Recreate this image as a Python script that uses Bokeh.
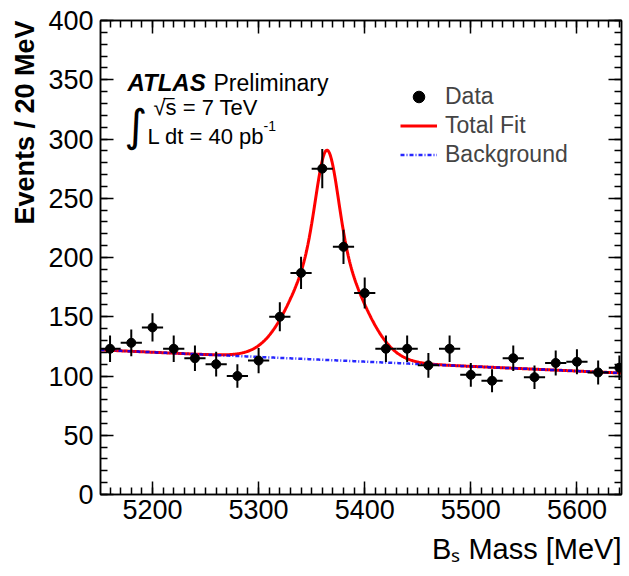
import numpy as np
from bokeh.plotting import figure
from bokeh.models import (Range1d, LinearAxis, Label, Legend, LegendItem, Title,
                          SingleIntervalTicker, ColumnDataSource)
from bokeh.embed import file_html
from bokeh.resources import INLINE

# ---- binned candidates (20 MeV bins, bin centres) ----
mass_bins = [5160, 5180, 5200, 5220, 5240, 5260, 5280, 5300, 5320, 5340,
             5360, 5380, 5400, 5420, 5440, 5460, 5480, 5500, 5520, 5540,
             5560, 5580, 5600, 5620, 5640]
events = [123, 128, 141, 123, 115, 110, 100, 113, 150, 187,
          275, 209, 170, 123, 123, 109, 123, 101, 96, 115,
          99, 111, 112, 103, 107]
bin_half_width = 10

# ---- fit result: double-Gaussian signal on a linear background ----
bs_mass = 5364.5
core_sigma = 10.0
tail_sigma = 30.0
core_height = 80.0
tail_height = 97.0
bkg_ref_mass = 5151.0
bkg_at_ref = 122.0
bkg_slope = -0.0397

x_lo, x_hi = 5151, 5642
y_lo, y_hi = 0, 400

FONT = "Liberation Sans"

def background(m):
    return bkg_at_ref + bkg_slope * (m - bkg_ref_mass)

def total_fit(m):
    d = m - bs_mass
    sig = (core_height * np.exp(-0.5 * (d / core_sigma) ** 2)
           + tail_height * np.exp(-0.5 * (d / tail_sigma) ** 2))
    return background(m) + sig

mx = np.array(mass_bins, dtype=float)
ny = np.array(events, dtype=float)
err = np.sqrt(ny)
data = ColumnDataSource(dict(
    x=mx, y=ny, xl=mx - bin_half_width, xr=mx + bin_half_width,
    ylo=ny - err, yhi=ny + err))

grid = np.linspace(x_lo, x_hi, 800)
curves = ColumnDataSource(dict(m=grid, fit=total_fit(grid), bkg=background(grid)))

p = figure(width=629, height=576, x_range=Range1d(x_lo, x_hi),
           y_range=Range1d(y_lo, y_hi), output_backend="svg",
           toolbar_location=None, min_border_left=100, min_border_right=8,
           min_border_top=20, min_border_bottom=82)
p.xgrid.visible = False
p.ygrid.visible = False
p.outline_line_color = "black"
p.outline_line_width = 1.5
p.background_fill_color = "white"
p.border_fill_color = "white"

def style_axis(ax, show_labels):
    ax.axis_line_color = "black"
    ax.axis_line_width = 1.5
    ax.major_tick_in = 13
    ax.major_tick_out = 0
    ax.minor_tick_in = 7
    ax.minor_tick_out = 0
    ax.major_tick_line_color = "black"
    ax.minor_tick_line_color = "black"
    ax.major_tick_line_width = 1.5
    ax.minor_tick_line_width = 1.5
    if show_labels:
        ax.major_label_text_font = FONT
        ax.major_label_text_font_size = "27px"
        ax.major_label_text_color = "black"
    else:
        ax.major_label_text_color = None
        ax.major_label_text_font_size = "1px"
        ax.major_label_standoff = 0

p.xaxis.ticker = SingleIntervalTicker(interval=100, num_minor_ticks=10)
p.yaxis.ticker = SingleIntervalTicker(interval=50, num_minor_ticks=5)
style_axis(p.xaxis[0], True)
style_axis(p.yaxis[0], True)
p.xaxis.major_label_standoff = 5
p.yaxis.major_label_standoff = 7

top_ax = LinearAxis(ticker=SingleIntervalTicker(interval=100, num_minor_ticks=10))
right_ax = LinearAxis(ticker=SingleIntervalTicker(interval=50, num_minor_ticks=5))
style_axis(top_ax, False)
style_axis(right_ax, False)
p.add_layout(top_ax, "above")
p.add_layout(right_ax, "right")

# axis titles, aligned to the far end of each axis
p.add_layout(Title(text="Events / 20 MeV", align="right", text_font=FONT,
                   text_font_size="27px", text_font_style="bold",
                   text_color="black", standoff=12), "left")
p.add_layout(Title(text="B\u209b Mass [MeV]", align="right", text_font=FONT,
                   text_font_size="29px", text_font_style="normal",
                   text_color="black", standoff=19), "below")

# fit curves
fit_r = p.line("m", "fit", source=curves, line_color="#ff0000", line_width=3)
bkg_r = p.line("m", "bkg", source=curves, line_color="#0000ff", line_width=2.5,
               line_dash="4 2 1 2", line_alpha=0.85)

# data with error bars
p.segment("xl", "y", "xr", "y", source=data, line_color="black", line_width=2)
p.segment("x", "ylo", "x", "yhi", source=data, line_color="black", line_width=2)
pts = p.scatter("x", "y", source=data, size=9, color="black")

legend = Legend(items=[LegendItem(label="Data", renderers=[pts]),
                       LegendItem(label="Total Fit", renderers=[fit_r]),
                       LegendItem(label="Background", renderers=[bkg_r])],
                location=(300, 325), border_line_alpha=0,
                background_fill_alpha=0, label_text_font=FONT,
                label_text_font_size="23px", glyph_width=37, glyph_height=29,
                label_height=29, spacing=0, padding=0, margin=0,
                label_standoff=8)
p.add_layout(legend)

# text placed in canvas pixels relative to the frame (left=100, bottom=494)
def fx(X):
    return X - 100

def fy(Y):
    return 494 - Y

def put(text, X, Y, size, style="normal", font=FONT, align="left",
        baseline="alphabetic"):
    p.add_layout(Label(x=fx(X), y=fy(Y), x_units="screen", y_units="screen",
                       text=text, text_font=font, text_font_size=size,
                       text_font_style=style, text_align=align,
                       text_baseline=baseline, text_color="black"))

put("ATLAS", 127, 82, "24px", style="bold italic")
put("Preliminary", 213, 82, "23px")
put("\u221as = 7 TeV", 153, 107, "22px")
# bar over the "s" under the root sign
put("\u2013", 163, 96, "20px")
put("\u222b", 124, 125, "44px", font="DejaVu Sans", baseline="middle")
put("L dt = 40 pb", 147, 136, "22px")
put("-1", 263, 125, "14px")

open("out.html", "w").write(file_html(p, INLINE))
